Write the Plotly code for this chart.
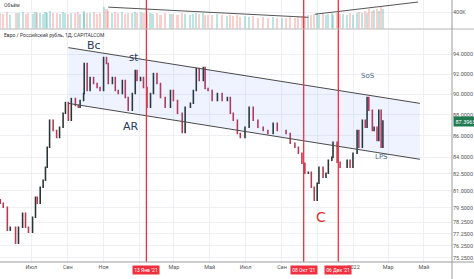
import math
import plotly.graph_objects as go

# ---------------- data ----------------
dates = [
    '2020-05-09', '2020-05-14', '2020-05-21', '2020-05-26', '2020-06-04', '2020-06-09', '2020-06-16', '2020-06-21',
    '2020-06-26', '2020-07-03', '2020-07-08', '2020-07-11', '2020-07-16', '2020-07-21', '2020-07-25', '2020-07-28',
    '2020-08-01', '2020-08-07', '2020-08-13', '2020-08-18', '2020-08-24', '2020-08-28', '2020-09-02', '2020-09-07',
    '2020-09-14', '2020-09-19', '2020-09-22', '2020-09-28', '2020-09-29', '2020-10-04', '2020-10-09', '2020-10-15',
    '2020-10-21', '2020-10-26',
    '2020-11-01', '2020-11-06', '2020-11-09', '2020-11-16', '2020-11-21', '2020-11-26', '2020-12-03', '2020-12-08',
    '2020-12-13', '2020-12-20', '2020-12-25', '2020-12-28',
    '2021-01-03', '2021-01-08', '2021-01-14', '2021-01-20', '2021-01-25', '2021-01-31', '2021-02-06', '2021-02-14',
    '2021-02-23', '2021-02-28', '2021-03-07', '2021-03-15', '2021-03-20', '2021-03-29', '2021-04-03', '2021-04-08',
    '2021-04-13', '2021-04-20', '2021-04-23', '2021-04-28', '2021-05-05', '2021-05-14', '2021-05-22', '2021-05-31',
    '2021-06-05', '2021-06-10', '2021-06-17', '2021-06-22', '2021-06-30', '2021-07-07', '2021-07-14', '2021-07-22',
    '2021-07-31', '2021-08-08', '2021-08-17', '2021-08-24', '2021-09-01', '2021-09-08', '2021-09-15',
    '2021-09-23', '2021-09-29', '2021-10-05', '2021-10-10', '2021-10-16', '2021-10-21', '2021-10-26', '2021-10-31',
    '2021-11-03', '2021-11-10', '2021-11-15', '2021-11-19', '2021-11-25', '2021-11-27', '2021-12-04', '2021-12-09',
    '2021-12-14', '2021-12-21', '2021-12-26', '2021-12-31', '2022-01-07', '2022-01-10', '2022-01-16', '2022-01-21',
    '2022-01-24', '2022-01-27', '2022-02-02', '2022-02-05', '2022-02-10', '2022-02-13', '2022-02-17', '2022-02-20',
]

close = [
    79.89, 79.54, 77.56, 77.82, 76.47, 77.82, 79.02, 77.82, 77.39, 78.67, 80.41, 79.89, 81.29, 81.92, 83.09, 84.93,
    87.47, 86.51, 85.85, 86.80, 88.14, 89.20, 87.47, 89.59, 88.91, 88.72, 89.40, 90.08, 93.09, 90.38, 91.67, 91.07,
    90.68, 90.38,
    93.70, 93.09, 91.07, 91.67, 90.38, 90.08, 91.37, 89.69, 88.43, 90.08, 92.38, 91.37,
    91.67, 90.68, 88.72, 90.08, 92.07, 91.07, 89.69, 88.72, 90.38, 89.40, 88.14, 86.32, 88.72, 89.11, 90.38, 92.58,
    91.37, 92.68, 90.58, 90.38, 89.40, 90.08, 89.40, 89.69,
    88.14, 87.47, 86.23, 85.85, 86.80, 88.72, 87.47, 86.80, 86.51, 86.23, 87.18, 86.51, 86.51, 86.23, 85.30,
    84.93, 84.37, 83.45, 82.55, 82.64, 81.29, 80.15, 81.65, 83.09, 82.19, 82.55, 83.73, 84.00, 85.39, 83.55, 83.09,
    83.09, 83.73, 83.09, 84.37, 86.51, 84.93, 87.47, 86.80, 89.69, 88.43, 86.51, 86.80, 85.57, 88.43, 84.93, 87.3965,
]
first_open = 80.20

volume_k = [
    380, 360, 400, 340, 390, 370, 410, 350, 380, 360, 400, 370, 390, 350, 410, 380,
    420, 370, 390, 360, 400, 380, 350, 390, 370, 410, 360, 380, 430, 390, 370, 400, 360, 380,
    520, 470, 430, 390, 410, 370, 400, 360, 390, 380, 410, 370,
    400, 380, 360, 390, 350, 370, 340, 380, 350, 360, 330, 380, 350, 340, 360, 390, 350, 370, 330, 340, 320, 350, 330, 310,
    320, 300, 330, 290, 300, 280, 310, 270, 290, 260, 280, 250, 270, 260, 280,
    270, 290, 300, 310, 330, 320, 350, 380, 340, 360, 330, 350, 370, 340, 380, 350,
    360, 330, 370, 340, 380, 400, 370, 420, 390, 480, 430, 450, 470, 440, 560, 480,
]

assert len(dates) == len(close) == len(volume_k), (len(dates), len(close), len(volume_k))

# price axis ticks
y_ticks = [94, 92, 90, 88, 86, 84, 82.5, 81, 79.5, 78.25, 77.25, 76.25, 75.25]
# time axis ticks (labels under the red date boxes are hidden, as in the reference)
x_tick_dates = ['2020-07-01', '2020-09-01', '2020-11-01', '2021-01-01', '2021-03-01', '2021-05-01',
                '2021-07-01', '2021-09-01', '2021-11-01', '2022-01-01', '2022-03-01', '2022-05-01']
x_tick_text = ['Июл', 'Сен', 'Ноя', '', 'Мар', 'Май', 'Июл', 'Сен', '', '2022', 'Мар', 'Май']

# event markers (red vertical lines)
event_dates = ['2021-01-13', '2021-10-08', '2021-12-06']
event_labels = ["13 Янв '21", "08 Окт '21", "06 Дек '21"]

# channel drawing (upper / lower lines)
channel_dates = ['2020-09-02', '2022-04-24']
channel_upper = [94.71, 89.11]
channel_lower = [89.11, 83.82]

# volume trend drawings
vol_line1_dates = ['2020-11-09', '2021-10-16']
vol_line1_k = [525, 275]
vol_line2_dates = ['2021-10-27', '2022-04-21']
vol_line2_k = [350, 650]

# text marks (Wyckoff labels)
wy_text = ['Bc', 'st', 'AR', 'SoS', 'LPS', 'C']
wy_dates = ['2020-10-15', '2020-12-22', '2020-12-18', '2022-01-25', '2022-02-17', '2021-11-06']
wy_price = [94.91, 93.70, 86.90, 91.77, 84.00, 78.67]
wy_size = [11, 10, 11, 7, 7, 14]
wy_color = ['#2b3a58', '#2b3a58', '#2b3a58', '#4d6a8a', '#4d6a8a', '#e5302f']

# ---------------- figure ----------------
opens = [first_open] + close[:-1]
highs = [max(o, c) for o, c in zip(opens, close)]
lows = [min(o, c) for o, c in zip(opens, close)]
vol_colors = ['rgba(38,166,154,0.30)' if c >= o else 'rgba(239,83,80,0.28)' for o, c in zip(opens, close)]

FONT = 'Roboto'
W, H = 474, 279
M_R, M_B = 22, 17
PH = H - M_B  # plot area height in px
vol_bottom = 1 - 28.5 / PH
main_top = 1 - 29.5 / PH

fig = go.Figure()

# channel fill
fig.add_trace(go.Scatter(
    x=channel_dates + channel_dates[::-1] + channel_dates[:1],
    y=channel_upper + channel_lower[::-1] + channel_upper[:1],
    fill='toself', fillcolor='rgba(41,98,255,0.08)', line=dict(width=0),
    mode='lines', hoverinfo='skip', xaxis='x', yaxis='y'))
fig.add_trace(go.Scatter(x=channel_dates, y=channel_upper, mode='lines',
                         line=dict(color='#4a4a4a', width=1), xaxis='x', yaxis='y'))
fig.add_trace(go.Scatter(x=channel_dates, y=channel_lower, mode='lines',
                         line=dict(color='#4a4a4a', width=1), xaxis='x', yaxis='y'))

fig.add_trace(go.Candlestick(
    x=dates, open=opens, high=highs, low=lows, close=close,
    increasing=dict(line=dict(color='#2a3533', width=1.5), fillcolor='#3d4744'),
    decreasing=dict(line=dict(color='#b83a52', width=1.5), fillcolor='#c8566c'),
    whiskerwidth=0, xaxis='x', yaxis='y'))

fig.add_trace(go.Bar(x=dates, y=[v * 1000 for v in volume_k], marker=dict(color=vol_colors, line=dict(width=0)),
                     width=3.5 * 86400000, xaxis='x2', yaxis='y2'))
fig.add_trace(go.Scatter(x=vol_line1_dates, y=[v * 1000 for v in vol_line1_k], mode='lines',
                         line=dict(color='#555', width=1), xaxis='x2', yaxis='y2'))
fig.add_trace(go.Scatter(x=vol_line2_dates, y=[v * 1000 for v in vol_line2_k], mode='lines',
                         line=dict(color='#555', width=1), xaxis='x2', yaxis='y2'))

x_range = ['2020-05-08 12:00', '2022-06-17 18:00']
tick_font = dict(family=FONT, size=5.5, color='#555')

shapes = []
for d in event_dates:
    shapes.append(dict(type='line', xref='x', yref='paper', x0=d, x1=d, y0=0, y1=1,
                       line=dict(color='#f0303f', width=1.3), layer='above'))
# pane separator
shapes.append(dict(type='line', xref='paper', yref='paper', x0=0, x1=W / (W - M_R), y0=(vol_bottom + main_top) / 2,
                   y1=(vol_bottom + main_top) / 2, line=dict(color='#b8b8b8', width=1.2)))
# right scale border
shapes.append(dict(type='line', xref='paper', yref='paper', x0=1, x1=1, y0=-M_B / PH, y1=1,
                   line=dict(color='#9a9a9a', width=1)))
# bottom axis border
shapes.append(dict(type='line', xref='paper', yref='paper', x0=0, x1=W / (W - M_R), y0=0, y1=0,
                   line=dict(color='#9a9a9a', width=1)))

annotations = []
for d, lab in zip(event_dates, event_labels):
    annotations.append(dict(x=d, y=-8 / PH, xref='x', yref='paper', text=lab, showarrow=False,
                            font=dict(family=FONT, size=5, color='white'), bgcolor='#f0303f',
                            borderpad=1.2, xanchor='center', yanchor='middle'))
for t, d, p, s, c in zip(wy_text, wy_dates, wy_price, wy_size, wy_color):
    annotations.append(dict(x=d, y=math.log10(p), xref='x', yref='y', text=t, showarrow=False,
                            font=dict(family='DejaVu Sans', size=s, color=c), xanchor='center', yanchor='middle'))
annotations.append(dict(x=0.004, y=1 - 35 / PH, xref='paper', yref='paper',
                        text='Евро / Российский рубль, 1Д, CAPITALCOM', showarrow=False,
                        font=dict(family=FONT, size=5, color='#333'), xanchor='left', yanchor='middle'))
annotations.append(dict(x=0.004, y=1 - 5 / PH, xref='paper', yref='paper', text='Объём', showarrow=False,
                        font=dict(family=FONT, size=5, color='#444'), xanchor='left', yanchor='middle'))
annotations.append(dict(x=1, y=math.log10(close[-1]), xref='paper', yref='y', text=f'{close[-1]:.4f}',
                        showarrow=False, font=dict(family=FONT, size=5.5, color='white'), bgcolor='#1f7a52',
                        borderpad=1.5, xanchor='left', yanchor='middle', xshift=1))

fig.update_layout(
    width=W, height=H,
    margin=dict(l=0, r=M_R, t=0, b=M_B),
    paper_bgcolor='white', plot_bgcolor='white',
    showlegend=False,
    boxgap=0.8,
    xaxis=dict(domain=[0, 1], anchor='y', type='date', range=x_range, rangeslider=dict(visible=False),
               tickvals=x_tick_dates, ticktext=x_tick_text, tickfont=tick_font, ticks='',
               showgrid=True, gridcolor='#eef0f4', gridwidth=1, zeroline=False, showline=False,
               automargin=False, ticklabelstandoff=0),
    yaxis=dict(domain=[0, main_top], anchor='x', side='right', type='log',
               range=[math.log10(74.91), math.log10(96.61)],
               tickvals=y_ticks, ticktext=[f'{v:.4f}' for v in y_ticks], tickfont=tick_font, ticks='',
               showgrid=True, gridcolor='#eef0f4', zeroline=False, showline=False, automargin=False),
    xaxis2=dict(domain=[0, 1], anchor='y2', type='date', matches='x', range=x_range, showticklabels=False,
                showgrid=True, gridcolor='#eef0f4', zeroline=False, rangeslider=dict(visible=False),
                tickvals=x_tick_dates),
    yaxis2=dict(domain=[vol_bottom, 1], anchor='x2', side='right', range=[0, 700000],
                tickvals=[400000], ticktext=['400K'], tickfont=tick_font, ticks='',
                showgrid=True, gridcolor='#eef0f4', zeroline=False, automargin=False),
    shapes=shapes, annotations=annotations,
    bargap=0,
)

fig.write_html('out.html')
